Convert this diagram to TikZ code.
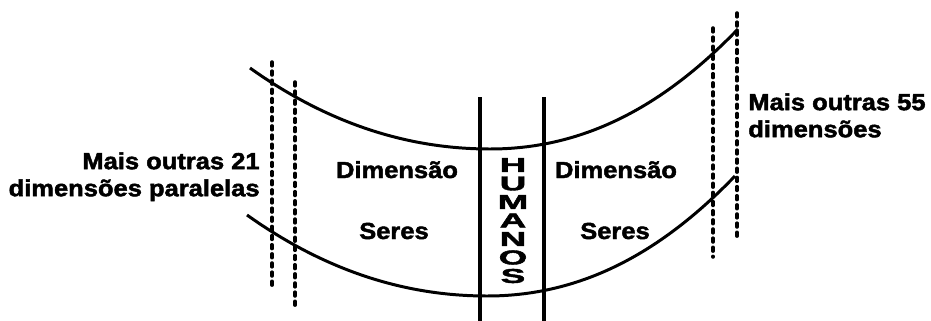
\documentclass[tikz,border=0pt]{standalone}
\usepackage{fontspec}
\newfontfamily\heavyfont{Liberation Sans Bold}[FakeStretch=1.1, FakeBold=2]

\begin{document}
\begin{tikzpicture}[x=0.02cm,y=-0.02cm,band/.style={line width=1.7pt},wall/.style={line width=1.8pt},border/.style={line width=2pt, line cap=round, dash pattern=on 2.2pt off 3pt},textblock/.style={inner sep=0pt, font=\heavyfont\fontsize{13.2}{15.4}\selectfont},letter/.style={inner sep=0pt, font=\heavyfont\fontsize{19}{19}\selectfont}]
\useasboundingbox (0,0) rectangle (931,321);
\draw[band] (250,68) .. controls (330,125) and (410,149) .. (490,149) .. controls (580,149) and (660,110) .. (738,29);
\draw[band] (247,215) .. controls (327,272) and (407,296) .. (487,296) .. controls (577,296) and (657,257) .. (735,176);
\draw[wall] (480,97) -- (480,321); \draw[wall] (544,97) -- (544,321);
\draw[border] (272,62) -- (272,290); \draw[border] (295,82) -- (295,308);
\draw[border] (713,28) -- (713,257); \draw[border] (737,13) -- (737,240);
\node[textblock, anchor=north east, align=right] (leftdims) at (260,152) {Mais outras 21\\dimensões paralelas};
\node[textblock, anchor=north west, align=left] (rightdims) at (748,93) {Mais outras 55\\dimensões};
\node[textblock, anchor=base] (dimleft) at (397,178) {Dimensão}; \node[textblock, anchor=base] (seresleft) at (394,239) {Seres};
\node[textblock, anchor=base] (dimright) at (616,178) {Dimensão}; \node[textblock, anchor=base] (seresright) at (615,239) {Seres};
\foreach \ch [count=\i] in {H,U,M,A,N,O,S} \node[letter] (h\i) at (513,{165+18.5*(\i-1)}) {\scalebox{1}[0.6]{\ch}};
\end{tikzpicture}
\end{document}
